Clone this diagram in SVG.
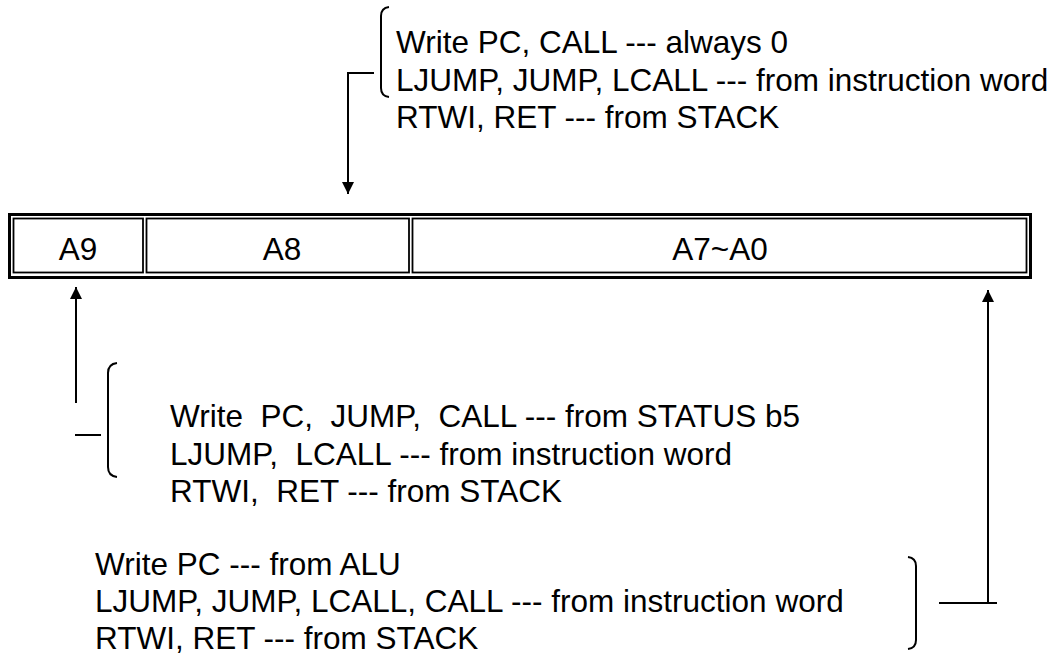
<svg xmlns="http://www.w3.org/2000/svg" width="1055" height="660" viewBox="0 0 1055 660">
<style>
text{font-family:"Liberation Sans",Arial,sans-serif;font-size:31.5px;fill:#000}
.c{text-anchor:middle}
.ln{stroke:#000;stroke-width:2;fill:none}
.br{stroke:#000;stroke-width:2;fill:none}
</style>
<defs>
<marker id="ah" viewBox="0 0 12 12" refX="12" refY="6" markerWidth="12" markerHeight="12" markerUnits="userSpaceOnUse" orient="auto">
<path d="M0,0 L12,6 L0,12 Z" fill="#000"/>
</marker>
</defs>
<rect x="0" y="0" width="1055" height="660" fill="#fff"/>
<g id="register">
<rect x="9.5" y="214.5" width="1021" height="63" fill="none" stroke="#000" stroke-width="3"/>
<g id="cell-a9"><rect x="13.5" y="218.5" width="129.5" height="54" fill="none" stroke="#000" stroke-width="1.8"/><text class="c" x="78" y="260">A9</text></g>
<g id="cell-a8"><rect x="146.5" y="218.5" width="262.5" height="54" fill="none" stroke="#000" stroke-width="1.8"/><text class="c" x="282" y="260">A8</text></g>
<g id="cell-a7a0"><rect x="412.5" y="218.5" width="614" height="54" fill="none" stroke="#000" stroke-width="1.8"/><text class="c" x="720" y="260">A7~A0</text></g>
</g>
<g id="note-top">
<path class="br" d="M389,7 Q381,8 381,16 L381,88 Q381,96 389,97"/>
<text x="396" y="53">Write PC, CALL --- always 0</text>
<text x="396" y="91">LJUMP, JUMP, LCALL --- from instruction word</text>
<text x="396" y="128">RTWI, RET --- from STACK</text>
</g>
<g id="note-mid">
<path class="br" d="M117,363 Q108,364 108,373 L108,467 Q108,476 117,477"/>
<text x="170" y="427" xml:space="preserve">Write  PC,  JUMP,  CALL --- from STATUS b5</text>
<text x="170" y="465" xml:space="preserve">LJUMP,  LCALL --- from instruction word</text>
<text x="170" y="502" xml:space="preserve">RTWI,  RET --- from STACK</text>
</g>
<g id="note-bottom">
<path class="br" d="M908,557 Q916,558 916,566 L916,640 Q916,648 908,649"/>
<text x="95" y="575">Write PC --- from ALU</text>
<text x="95" y="612">LJUMP, JUMP, LCALL, CALL --- from instruction word</text>
<text x="95" y="649">RTWI, RET --- from STACK</text>
</g>
<g id="connectors">
<path class="ln" d="M374,73 L348,73 L348,194" marker-end="url(#ah)"/>
<path class="ln" d="M76,403 L76,287" marker-end="url(#ah)"/>
<path class="ln" d="M75,435 L101,435"/>
<path class="ln" d="M939,603 L997,603"/>
<path class="ln" d="M988,603 L988,290" marker-end="url(#ah)"/>
</g>
</svg>
